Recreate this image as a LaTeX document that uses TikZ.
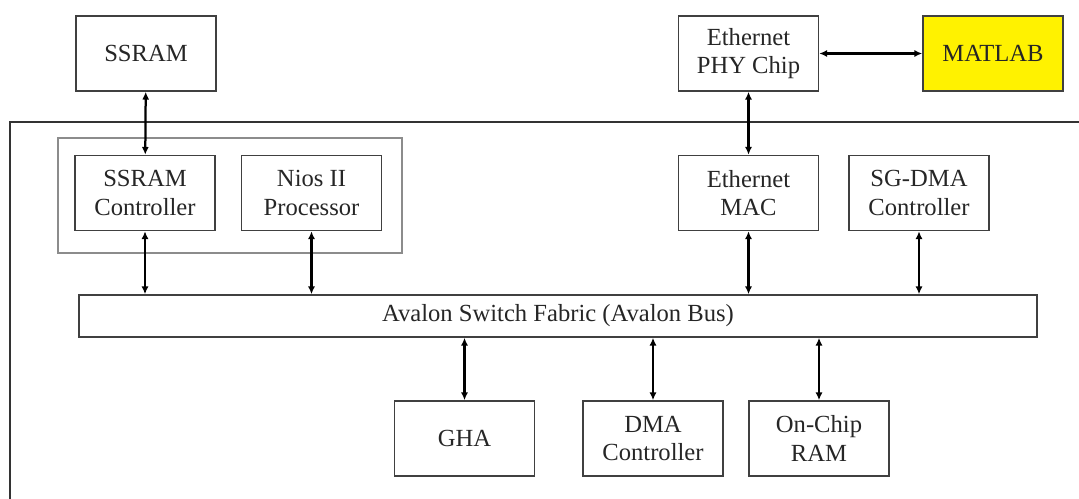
\documentclass[tikz,border=0pt]{standalone}
\usepackage{fontspec}
\setmainfont{Liberation Serif}
\usetikzlibrary{arrows.meta}
\begin{document}
\begin{tikzpicture}[x=0.025cm, y=-0.025cm, >={Latex[length=5.5pt,width=5pt]},
    blk/.style={draw=black!75, line width=1.1pt, minimum width=3.5cm, minimum height=1.875cm,
        align=center, inner sep=0pt, font=\fontsize{17.5}{20}\selectfont, text=black!85},
    link/.style={<->, line width=1.6pt}]
    \useasboundingbox (0,0) rectangle (1079,499);

    % Board frame
    \draw[line width=1.4pt, black!80] (10,499) -- (10,122) -- (1079,122);

    % Off-chip parts
    \node[blk] (ssram) at (146,53.5) {SSRAM};
    \node[blk] (phy) at (748.5,53.5) {Ethernet\\PHY Chip};
    \node[blk, fill=yellow] (matlab) at (993,53.5) {MATLAB};

    % Processor group
    \node[draw=black!45, line width=1.1pt, minimum width=8.6cm, minimum height=2.875cm] (cpu) at (230,195.5) {};
    \node[blk] (ssctl) at (145,193) {SSRAM\\Controller};
    \node[blk] (nios) at (311.5,193) {Nios II\\Processor};

    % Ethernet side
    \node[blk] (mac) at (748.5,193) {Ethernet\\MAC};
    \node[blk] (sgdma) at (919,193) {SG-DMA\\Controller};

    % Bus
    \node[blk, minimum width=23.95cm, minimum height=1.05cm] (bus) at (558,316) {Avalon Switch Fabric (Avalon Bus)};

    % Slaves
    \node[blk] (gha) at (464.5,438.5) {GHA};
    \node[blk] (dma) at (653,438.5) {DMA\\Controller};
    \node[blk] (ram) at (819,438.5) {On-Chip\\RAM};

    % Links
    \draw[link] (ssram) -- (ssctl);
    \draw[link] (phy) -- (mac);
    \draw[link] (phy) -- (matlab);
    \foreach \n in {ssctl, nios, mac, sgdma}
        \draw[link] (\n.south) -- (\n.south |- bus.north);
    \foreach \n in {gha, dma, ram}
        \draw[link] (\n.north) -- (\n.north |- bus.south);
\end{tikzpicture}
\end{document}
